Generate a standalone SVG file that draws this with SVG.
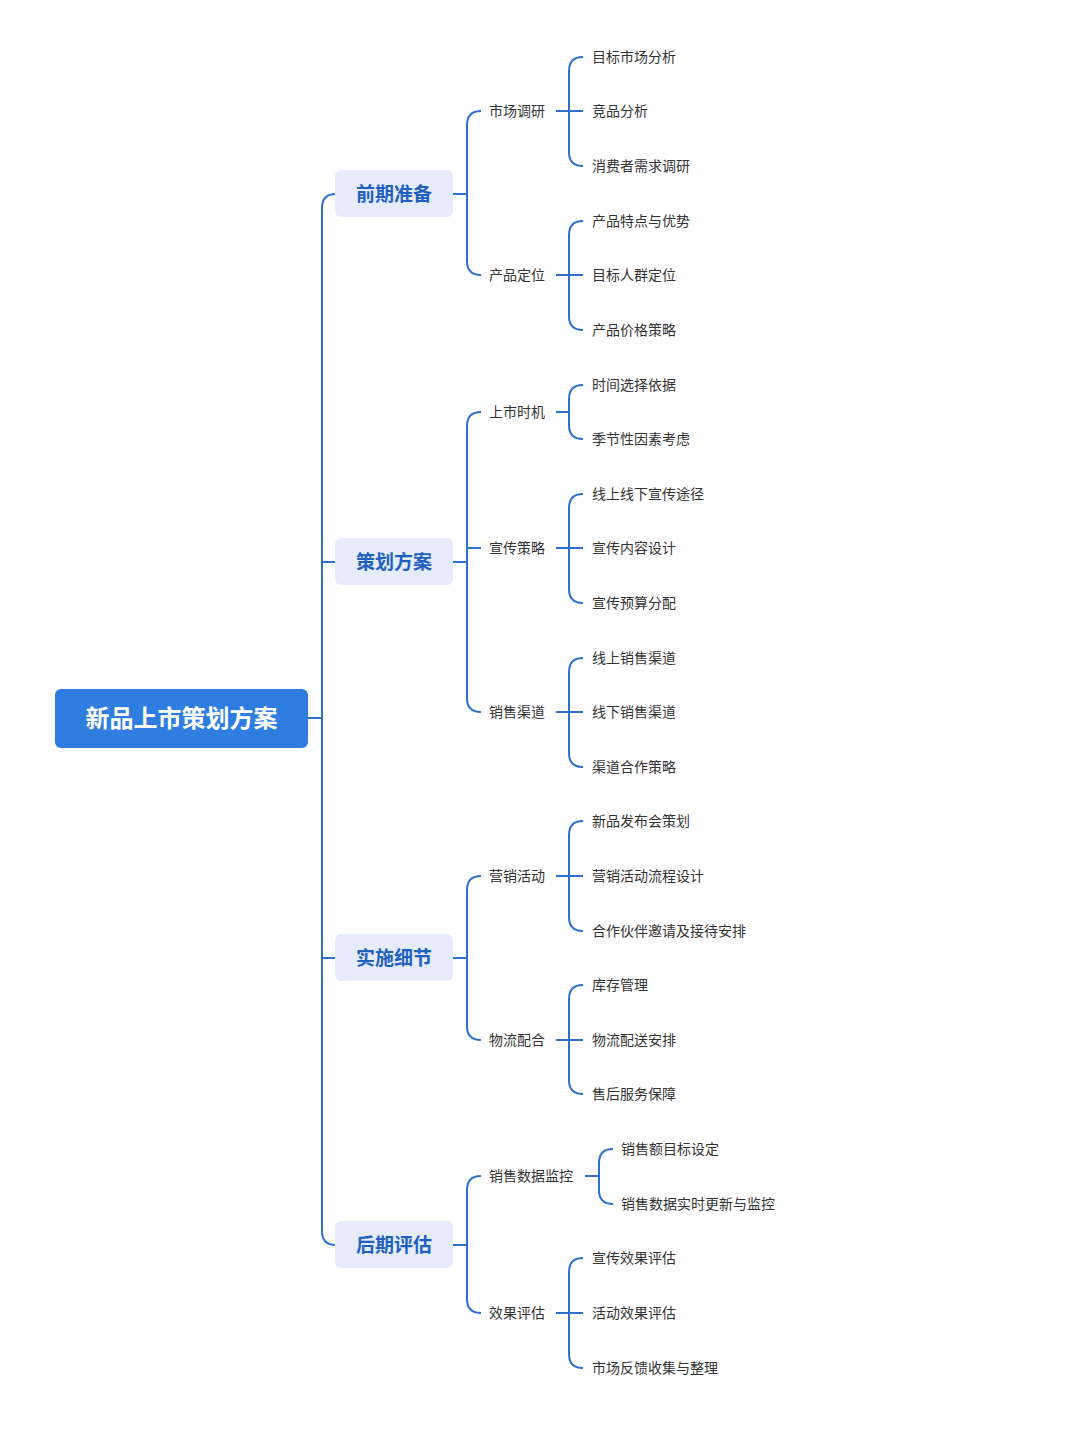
<svg xmlns="http://www.w3.org/2000/svg" width="1080" height="1439" viewBox="0 0 1080 1439">
<style>
.c{fill:none;stroke:#2f6fd0;stroke-width:2}
.t{font-family:"Noto Sans CJK SC",sans-serif;font-size:14px;fill:#333}
.l1{fill:#e6ecfb}
.l1t{font-family:"Noto Sans CJK SC",sans-serif;font-size:19px;font-weight:bold;fill:#1f5fbf;text-anchor:middle}
</style>
<rect width="1080" height="1439" fill="#fff"/>
<g id="connectors">
<path class="c" d="M308,718H322M336,194Q322,194 322,208V1231Q322,1245 336,1245M322,562H336M322,958H336"/>
<path class="c" d="M453,194H467M481,111Q467,111 467,125V261Q467,275 481,275"/>
<path class="c" d="M453,562H467M481,412Q467,412 467,426V698Q467,712 481,712M467,548H481"/>
<path class="c" d="M453,958H467M481,876Q467,876 467,890V1026Q467,1040 481,1040"/>
<path class="c" d="M453,1245H467M481,1176Q467,1176 467,1190V1299Q467,1313 481,1313"/>
<path class="c" d="M556,111H583M583,57Q569,57 569,71V152Q569,166 583,166"/>
<path class="c" d="M556,275H583M583,221Q569,221 569,235V316Q569,330 583,330"/>
<path class="c" d="M556,412H569M583,385Q569,385 569,399V425Q569,439 583,439"/>
<path class="c" d="M556,548H583M583,494Q569,494 569,508V589Q569,603 583,603"/>
<path class="c" d="M556,712H583M583,658Q569,658 569,672V753Q569,767 583,767"/>
<path class="c" d="M556,876H583M583,821Q569,821 569,835V917Q569,931 583,931"/>
<path class="c" d="M556,1040H583M583,985Q569,985 569,999V1080Q569,1094 583,1094"/>
<path class="c" d="M585,1176H599M613,1149Q599,1149 599,1163V1190Q599,1204 613,1204"/>
<path class="c" d="M556,1313H583M583,1258Q569,1258 569,1272V1354Q569,1368 583,1368"/>
</g>
<g id="root"><rect x="55" y="689" width="253" height="59" rx="6" fill="#2f7de1"/><text x="181.5" y="727" font-family="Noto Sans CJK SC,sans-serif" font-size="24" font-weight="bold" fill="#fff" text-anchor="middle">新品上市策划方案</text></g>
<g id="n1"><rect class="l1" x="335" y="170" width="118" height="47" rx="6"/><text class="l1t" x="394" y="201">前期准备</text></g>
<g id="n2"><rect class="l1" x="335" y="538" width="118" height="47" rx="6"/><text class="l1t" x="394" y="569">策划方案</text></g>
<g id="n3"><rect class="l1" x="335" y="934" width="118" height="47" rx="6"/><text class="l1t" x="394" y="965">实施细节</text></g>
<g id="n4"><rect class="l1" x="335" y="1221" width="118" height="47" rx="6"/><text class="l1t" x="394" y="1252">后期评估</text></g>
<g id="level2">
<text class="t" x="489" y="116">市场调研</text>
<text class="t" x="489" y="280">产品定位</text>
<text class="t" x="489" y="417">上市时机</text>
<text class="t" x="489" y="553">宣传策略</text>
<text class="t" x="489" y="717">销售渠道</text>
<text class="t" x="489" y="881">营销活动</text>
<text class="t" x="489" y="1045">物流配合</text>
<text class="t" x="489" y="1181">销售数据监控</text>
<text class="t" x="489" y="1318">效果评估</text>
</g>
<g id="leaves">
<text class="t" x="592" y="62">目标市场分析</text>
<text class="t" x="592" y="116">竞品分析</text>
<text class="t" x="592" y="171">消费者需求调研</text>
<text class="t" x="592" y="226">产品特点与优势</text>
<text class="t" x="592" y="280">目标人群定位</text>
<text class="t" x="592" y="335">产品价格策略</text>
<text class="t" x="592" y="390">时间选择依据</text>
<text class="t" x="592" y="444">季节性因素考虑</text>
<text class="t" x="592" y="499">线上线下宣传途径</text>
<text class="t" x="592" y="553">宣传内容设计</text>
<text class="t" x="592" y="608">宣传预算分配</text>
<text class="t" x="592" y="663">线上销售渠道</text>
<text class="t" x="592" y="717">线下销售渠道</text>
<text class="t" x="592" y="772">渠道合作策略</text>
<text class="t" x="592" y="826">新品发布会策划</text>
<text class="t" x="592" y="881">营销活动流程设计</text>
<text class="t" x="592" y="936">合作伙伴邀请及接待安排</text>
<text class="t" x="592" y="990">库存管理</text>
<text class="t" x="592" y="1045">物流配送安排</text>
<text class="t" x="592" y="1099">售后服务保障</text>
<text class="t" x="621" y="1154">销售额目标设定</text>
<text class="t" x="621" y="1209">销售数据实时更新与监控</text>
<text class="t" x="592" y="1263">宣传效果评估</text>
<text class="t" x="592" y="1318">活动效果评估</text>
<text class="t" x="592" y="1373">市场反馈收集与整理</text>
</g>
</svg>
